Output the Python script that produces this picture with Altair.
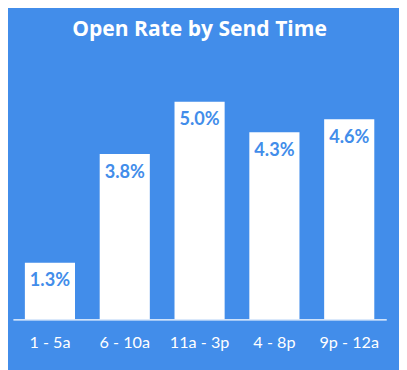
import altair as alt
import pandas as pd

categories = ["1 - 5a", "6 - 10a", "11a - 3p", "4 - 8p", "9p - 12a"]
values = [1.3, 3.8, 5.0, 4.3, 4.6]
labels = ["1.3%", "3.8%", "5.0%", "4.3%", "4.6%"]

BLUE = "#428DEA"
df = pd.DataFrame({"slot": categories, "rate": values, "label": labels})

x = alt.X("slot:N", sort=categories, title=None,
          scale=alt.Scale(paddingInner=0.33, paddingOuter=0.16),
          axis=alt.Axis(labelAngle=0, labelColor="white", labelFont="Lato", labelFontSize=16.5,
                        labelPadding=16, ticks=False, domainColor="white", domainWidth=1.2,
                        grid=False))
y = alt.Y("rate:Q", axis=None, scale=alt.Scale(domain=[0, 5.0], nice=False, zero=True))

bars = alt.Chart(df).mark_bar(color="white").encode(x=x, y=y)
text = alt.Chart(df).mark_text(color=BLUE, font="Lato", fontWeight="bold", fontSize=18.5,
                               baseline="middle", dy=18).encode(x=x, y=y, text="label:N")

chart = (bars + text).properties(
    width=381, height=222,
    background=BLUE,
    padding={"left": 5, "top": 92, "right": 13, "bottom": 48},
    autosize=alt.AutoSizeParams(type="none"),
    title=alt.TitleParams("Open Rate by Send Time", color="white", font="Open Sans",
                          fontWeight="bold", fontSize=21.5, anchor="middle", offset=63),
).configure_view(stroke=None)

chart.save("out.html", embed_options={"renderer": "svg", "actions": False})
